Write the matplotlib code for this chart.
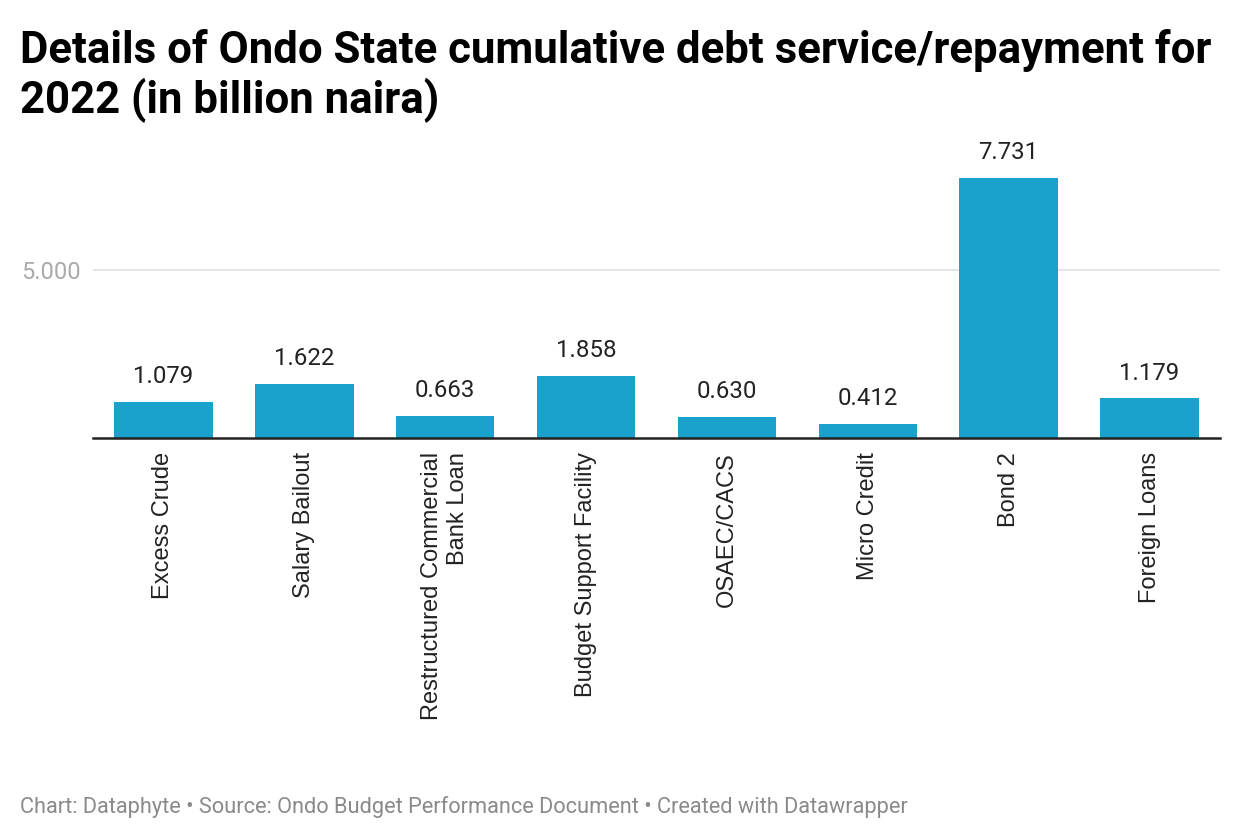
import matplotlib.pyplot as plt

# debt service items, 2022 (billion naira)
categories = ['Excess Crude', 'Salary Bailout', 'Restructured Commercial\nBank Loan',
              'Budget Support Facility', 'OSAEC/CACS', 'Micro Credit', 'Bond 2',
              'Foreign Loans']
values = [1.079, 1.622, 0.663, 1.858, 0.630, 0.412, 7.731, 1.179]
value_labels = ['1.079', '1.622', '0.663', '1.858', '0.630', '0.412', '7.731', '1.179']
y_ticks = [5]
y_tick_labels = ['5.000']

BAR_COLOR = '#1aa1cc'

plt.rcParams['font.family'] = ['Roboto', 'DejaVu Sans']

fig = plt.figure(figsize=(12.4, 8.4), dpi=100)
ax = fig.add_axes([93 / 1240, 1 - 438 / 840, (1220 - 93) / 1240, (438 - 140) / 840])

x = list(range(len(categories)))
bars = ax.bar(x, values, width=0.70, color=BAR_COLOR, zorder=2)

for xi, v, lab in zip(x, values, value_labels):
    ax.annotate(lab, (xi, v), xytext=(0, 10), textcoords='offset points',
                ha='center', va='bottom', fontsize=17.3, color='#222222')

ax.set_xlim(-0.5, len(categories) - 0.5)
ax.set_ylim(0, 8.87)

ax.set_yticks(y_ticks)
ax.set_yticklabels(y_tick_labels, fontsize=17, color='#aaaaaa')
ax.tick_params(axis='y', length=0, pad=9)
ax.grid(axis='y', color='#e3e3e3', linewidth=1.3, zorder=0)

ax.set_xticks(x)
ax.set_xticklabels(categories, rotation=90, fontsize=17, color='#222222',
                   family='Liberation Sans', multialignment='right')
ax.tick_params(axis='x', length=0, pad=10)

for side in ['top', 'right', 'left']:
    ax.spines[side].set_visible(False)
ax.spines['bottom'].set_color('#222222')
ax.spines['bottom'].set_linewidth(1.8)
ax.spines['bottom'].set_zorder(3)

title_lines = ['Details of Ondo State cumulative debt service/repayment for',
               '2022 (in billion naira)']
for i, line in enumerate(title_lines):
    fig.text(20 / 1240, 1 - (63 + 50 * i) / 840, line,
             fontsize=31.5, fontweight='bold', color='#000000',
             ha='left', va='baseline')

fig.text(20 / 1240, 1 - 813 / 840,
         'Chart: Dataphyte \u2022 Source: Ondo Budget Performance Document \u2022 Created with Datawrapper',
         fontsize=15.7, color='#8a8a8a', ha='left', va='baseline')

fig.savefig('out.png', dpi=100)
